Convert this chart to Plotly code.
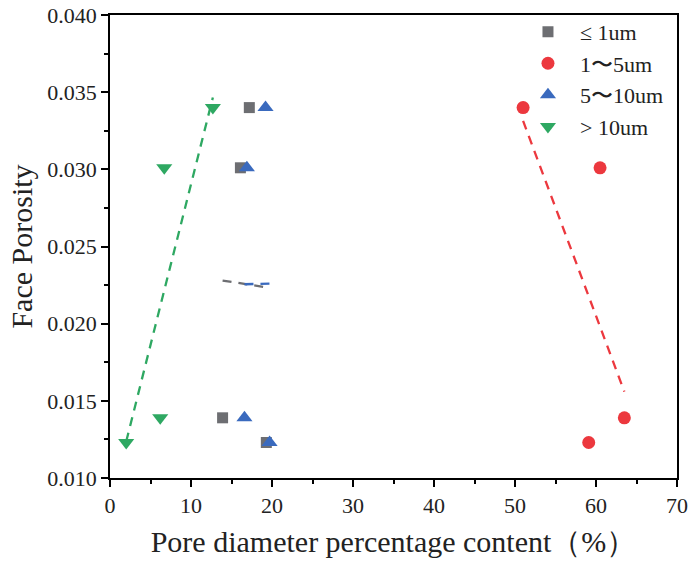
import numpy as np
import plotly.graph_objects as go

# Face porosity of the four samples
face_porosity = [0.0340, 0.0301, 0.0139, 0.0123]

# Pore diameter percentage content (%) for each size class
pct_le1 = [17.2, 16.1, 13.9, 19.3]
pct_1to5 = [51.0, 60.5, 63.5, 59.1]
pct_5to10 = [19.2, 16.9, 16.6, 19.7]
pct_gt10 = [12.7, 6.7, 6.2, 2.0]

series = [
    ("\u2264 1um", pct_le1, "square", "rgb(109,110,114)", 11),
    ("1\u301c5um", pct_1to5, "circle", "rgb(236,56,62)", 13),
    ("5\u301c10um", pct_5to10, "triangle-up", "rgb(58,106,190)", 14),
    ("> 10um", pct_gt10, "triangle-down", "rgb(46,168,98)", 14),
]

fig = go.Figure()

# Least-squares trend line per size class
for name, xs, sym, col, sz in series:
    x = np.array(xs)
    y = np.array(face_porosity)
    k, b = np.polyfit(x, y, 1)
    xl = np.array([x.min(), x.max()])
    fig.add_trace(go.Scatter(
        x=xl, y=k * xl + b, mode="lines", showlegend=False,
        line=dict(color=col, width=2.3, dash="9px,7px"), hoverinfo="skip"))

for name, xs, sym, col, sz in series:
    fig.add_trace(go.Scatter(
        x=xs, y=face_porosity, mode="markers", name=name,
        marker=dict(symbol=sym, color=col, size=sz, line=dict(width=0))))

font_family = "Liberation Serif"
axis_common = dict(
    showline=True, linecolor="black", linewidth=1.5, mirror=True,
    ticks="outside", ticklen=7, tickwidth=1.5, tickcolor="black",
    showgrid=False, zeroline=False,
    tickfont=dict(family=font_family, size=22, color="#222"),
)

fig.update_layout(
    width=690, height=564,
    margin=dict(l=110, r=13, t=15, b=86, autoexpand=False),
    plot_bgcolor="white", paper_bgcolor="white",
    font=dict(family=font_family, color="#222"),
    xaxis=dict(
        range=[0, 70], tick0=0, dtick=10,
        minor=dict(dtick=5, ticks="outside", ticklen=4, tickwidth=1.5, tickcolor="black"),
        title=dict(text="Pore diameter percentage content\uff08%\uff09",
                   font=dict(family=font_family, size=30, color="#222"), standoff=14),
        **axis_common),
    yaxis=dict(
        range=[0.010, 0.040], tick0=0.010, dtick=0.005, tickformat=".3f",
        minor=dict(dtick=0.0025, ticks="outside", ticklen=4, tickwidth=1.5, tickcolor="black"),
        title=dict(text="Face Porosity",
                   font=dict(family=font_family, size=30, color="#222"), standoff=6),
        **axis_common),
    legend=dict(
        x=0.716, y=1.009, xanchor="left", yanchor="top",
        bgcolor="rgba(0,0,0,0)", borderwidth=0,
        font=dict(family=font_family, size=22, color="#222"),
        itemsizing="trace", itemwidth=54, tracegroupgap=0,
    ),
)

fig.write_html("out.html")
